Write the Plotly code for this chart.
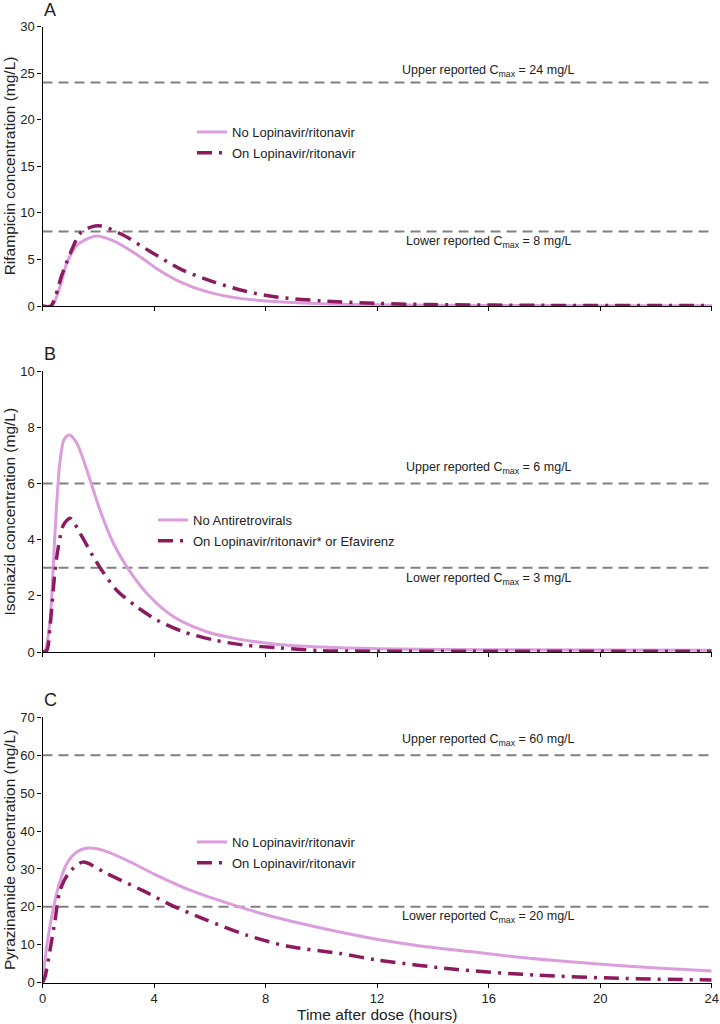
import plotly.graph_objects as go

# ---------------- data ----------------
time_ticks = [0, 4, 8, 12, 16, 20, 24]

# Panel A: Rifampicin
rif_no_t = [0, 0.33, 0.63, 0.87, 1.23, 1.88, 2.54, 3.5, 4.1, 4.93, 5.89, 7.08, 8.46, 10, 12, 16, 20, 24]
rif_no_c = [0, 0, 2.1, 4.6, 6.5, 7.5, 7.0, 5.3, 4.0, 2.6, 1.55, 0.82, 0.46, 0.25, 0.13, 0.06, 0.04, 0.03]
rif_on_t = [0, 0.3, 0.69, 0.99, 1.35, 1.76, 2.1, 2.84, 3.92, 4.99, 6.13, 7.32, 8.46, 10, 12, 14, 18, 24]
rif_on_c = [0, 0, 3.3, 5.6, 7.8, 8.5, 8.6, 7.7, 5.75, 3.9, 2.6, 1.55, 0.95, 0.55, 0.28, 0.15, 0.07, 0.04]

# Panel B: Isoniazid
inh_no_t = [0, 0.09, 0.27, 0.39, 0.51, 0.63, 0.77, 0.96, 1.23, 1.59, 2.06, 2.54, 3.02, 3.74, 4.69, 5.89, 7.08, 8.46, 10, 12, 16, 24]
inh_no_c = [0, 0.05, 1.1, 3.15, 5.3, 6.8, 7.55, 7.72, 7.43, 6.48, 5.05, 3.87, 3.04, 2.09, 1.26, 0.72, 0.45, 0.27, 0.18, 0.12, 0.08, 0.06]
inh_on_t = [0, 0.15, 0.27, 0.45, 0.57, 0.75, 0.99, 1.35, 1.82, 2.12, 2.66, 3.38, 4.1, 5.05, 6.13, 7.2, 8.46, 10, 12, 24]
inh_on_c = [0, 0.05, 0.9, 2.9, 3.75, 4.52, 4.76, 4.22, 3.39, 2.92, 2.2, 1.61, 1.14, 0.72, 0.43, 0.25, 0.15, 0.05, 0.03, 0.03]

# Panel C: Pyrazinamide
pza_no_t = [0, 0.15, 0.33, 0.57, 0.87, 1.23, 1.64, 2.18, 3.02, 4.1, 5.29, 6.97, 8.28, 10.07, 12.04, 13.54, 15.33, 17.1, 18.92, 21.3, 24]
pza_no_c = [0, 9.5, 17.4, 25.3, 31.4, 34.5, 35.5, 34.9, 32.3, 28.3, 24.4, 20.2, 17.4, 14.3, 11.4, 9.7, 8.2, 6.7, 5.5, 4.2, 3.1]
pza_on_t = [0, 0.09, 0.27, 0.45, 0.63, 0.93, 1.44, 2.3, 3.62, 4.69, 5.89, 7.32, 8.76, 10.67, 12, 14.7, 17.7, 20.7, 24]
pza_on_c = [0, 1.6, 8.6, 16.5, 24.4, 28.8, 31.8, 28.8, 24.2, 20.2, 16.5, 12.55, 9.66, 7.7, 6.0, 3.6, 2.0, 1.15, 0.7]

# Reference Cmax lines (lower, upper) per panel
rif_cmax = [8, 24]
inh_cmax = [3, 6]
pza_cmax = [20, 60]

panel_letters = ["A", "B", "C"]
y_titles = ["Rifampicin concentration (mg/L)",
            "Isoniazid concentration (mg/L)",
            "Pyrazinamide concentration (mg/L)"]
x_title = "Time after dose (hours)"
y_ranges = [[0, 30], [0, 10], [0, 70]]
y_dticks = [5, 2, 10]
legend_labels = [
    ["No Lopinavir/ritonavir", "On Lopinavir/ritonavir"],
    ["No Antiretrovirals", "On Lopinavir/ritonavir* or Efavirenz"],
    ["No Lopinavir/ritonavir", "On Lopinavir/ritonavir"],
]

# ---------------- style ----------------
W, H = 720, 1024
LIGHT = "#DC9DDD"
DARK = "#8B1B5E"
GREY = "#808080"
FONT = "Liberation Sans, Arial, Helvetica, sans-serif"
TXT = "#222222"


def fx(p):  # pixel x -> paper fraction
    return p / W


def fy(p):  # pixel y -> paper fraction
    return 1 - p / H


x_dom = [fx(42.5), fx(711.7)]
py = [(26.7, 306.0), (371.0, 652.0), (717.3, 982.7)]
y_doms = [[fy(b), fy(t)] for (t, b) in py]

series = [
    (rif_no_t, rif_no_c, rif_on_t, rif_on_c, rif_cmax),
    (inh_no_t, inh_no_c, inh_on_t, inh_on_c, inh_cmax),
    (pza_no_t, pza_no_c, pza_on_t, pza_on_c, pza_cmax),
]

fig = go.Figure()
shapes = []
annotations = []
legend_names = ["legend", "legend2", "legend3"]
legend_px = [(192, 117), (153, 505), (192, 827)]
upper_px = [71, 468, 740]
lower_px = [242, 579, 917]

for i, (nt, nc, ot, oc, cm) in enumerate(series):
    xa = "x" if i == 0 else f"x{i+1}"
    ya = "y" if i == 0 else f"y{i+1}"
    fig.add_trace(go.Scatter(
        x=nt, y=nc, mode="lines", name=legend_labels[i][0],
        line=dict(color=LIGHT, width=3, shape="spline", smoothing=0.8),
        xaxis=xa, yaxis=ya, legend=legend_names[i], legendgroup=f"g{i}a"))
    fig.add_trace(go.Scatter(
        x=ot, y=oc, mode="lines", name=legend_labels[i][1],
        line=dict(color=DARK, width=3.5, shape="spline", smoothing=0.8,
                  dash="15px,7px,3px,7px"),
        xaxis=xa, yaxis=ya, legend=legend_names[i], legendgroup=f"g{i}b"))

    for val in cm:
        shapes.append(dict(type="line", xref=xa, yref=ya, x0=0, x1=24, y0=val, y1=val,
                           line=dict(color=GREY, width=2, dash="10px,6px"), layer="below"))

    annotations.append(dict(xref=xa, yref="paper", x=16, y=fy(upper_px[i]), yanchor="middle",
                            text=f"Upper reported C<sub>max</sub> = {cm[1]} mg/L",
                            showarrow=False, font=dict(size=12.5, color=TXT, family=FONT)))
    annotations.append(dict(xref=xa, yref="paper", x=16, y=fy(lower_px[i]), yanchor="middle",
                            text=f"Lower reported C<sub>max</sub> = {cm[0]} mg/L",
                            showarrow=False, font=dict(size=12.5, color=TXT, family=FONT)))
    # panel letter
    annotations.append(dict(xref="paper", yref="paper", x=fx(42), y=fy(py[i][0] - 17),
                            xanchor="left", yanchor="middle", text=panel_letters[i],
                            showarrow=False, font=dict(size=18, color=TXT, family=FONT)))
    # y-axis title
    annotations.append(dict(xref="paper", yref="paper", x=fx(9), y=fy((py[i][0] + py[i][1]) / 2),
                            xanchor="center", yanchor="middle", text=y_titles[i], textangle=-90,
                            showarrow=False, font=dict(size=15.5, color=TXT, family=FONT)))

# x axis title
annotations.append(dict(xref="paper", yref="paper", x=fx(377), y=fy(1014),
                        xanchor="center", yanchor="middle", text=x_title,
                        showarrow=False, font=dict(size=15.5, color=TXT, family=FONT)))

layout = dict(
    width=W, height=H,
    margin=dict(l=0, r=0, t=0, b=0, autoexpand=False),
    paper_bgcolor="white", plot_bgcolor="white",
    font=dict(family=FONT, color=TXT, size=13),
    shapes=shapes, annotations=annotations,
)

for i in range(3):
    xk = "xaxis" if i == 0 else f"xaxis{i+1}"
    yk = "yaxis" if i == 0 else f"yaxis{i+1}"
    layout[xk] = dict(
        domain=x_dom, range=[0, 24], tickvals=time_ticks,
        showticklabels=(i == 2), ticks="outside", ticklen=4, tickwidth=1.2,
        tickcolor="black", showline=True, linecolor="black", linewidth=1.3,
        showgrid=False, zeroline=False, automargin=False, ticklabeloverflow="allow",
        anchor="y" if i == 0 else f"y{i+1}",
        tickfont=dict(size=13, color=TXT),
    )
    layout[yk] = dict(
        domain=y_doms[i], range=y_ranges[i], dtick=y_dticks[i], tick0=0,
        ticks="outside", ticklen=4, tickwidth=1.2, tickcolor="black",
        showline=True, linecolor="black", linewidth=1.3,
        showgrid=False, zeroline=False, automargin=False, ticklabeloverflow="allow",
        anchor="x" if i == 0 else f"x{i+1}",
        tickfont=dict(size=13, color=TXT),
    )
    lx, ly = legend_px[i]
    layout[legend_names[i]] = dict(
        x=fx(lx), y=fy(ly), xanchor="left", yanchor="top",
        bgcolor="rgba(0,0,0,0)", font=dict(size=13, color=TXT, family=FONT),
        traceorder="grouped", tracegroupgap=1, itemwidth=30,
    )

fig.update_layout(**layout)
fig.write_html("out.html", config={"displayModeBar": False},
               post_script="document.body.style.margin='0';")
